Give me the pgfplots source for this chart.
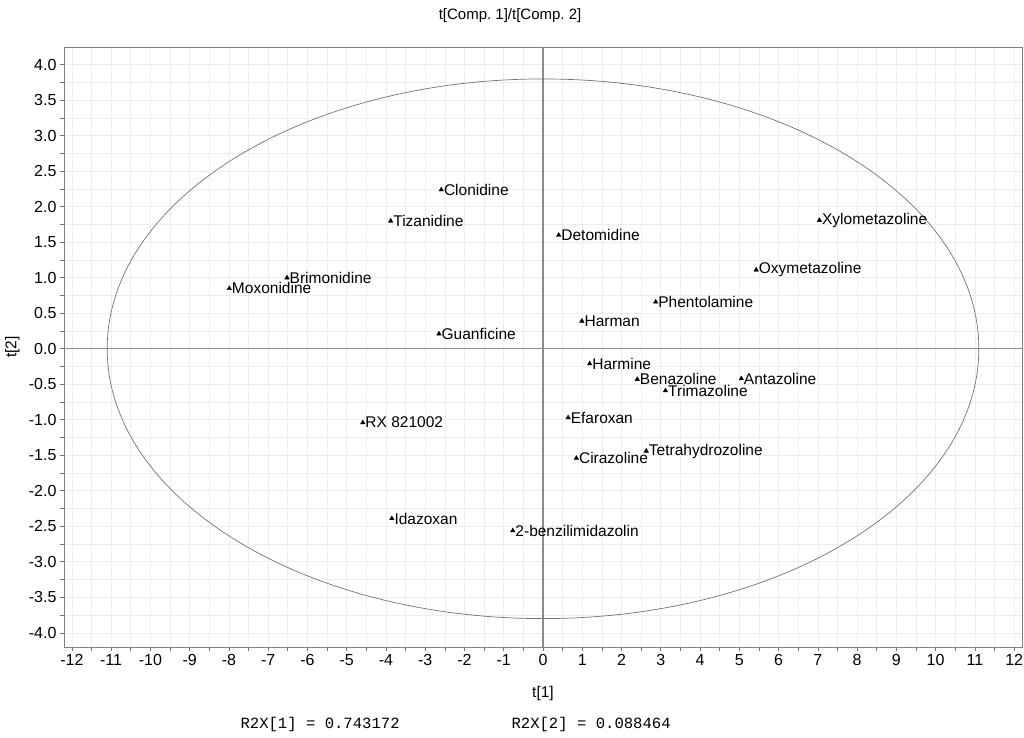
\documentclass[border=0pt]{standalone}
\usepackage{pgfplots}
\pgfplotsset{compat=1.18}
\usepackage{fontspec}
\setmainfont{Liberation Sans}
\setmonofont{Liberation Mono}
\begin{document}
\begin{tikzpicture}[x=1pt,y=1pt]
\begin{axis}[
  at={(64pt,90pt)}, anchor=south west,
  width=958pt, height=600pt, scale only axis,
  xmin=-12.2, xmax=12.2, ymin=-4.2, ymax=4.25,
  xtick={-12,...,12}, ytick={-4,-3.5,...,4},
  minor x tick num=1, minor y tick num=1,
  grid=both,
  major grid style={draw=black!7, line width=0.6pt},
  minor grid style={draw=black!7, line width=0.6pt},
  axis line style={draw=black!50, line width=0.9pt},
  tick style={draw=black!55, line width=0.6pt},
  tick align=outside, major tick length=4pt, minor tick length=4pt,
  tick pos=left,
  yticklabel style={/pgf/number format/fixed, /pgf/number format/fixed zerofill, /pgf/number format/precision=1},
  /pgf/number format/assume math mode=true,
  tick label style={font=\fontsize{16}{18}\selectfont, black},
  title={t[Comp.\ 1]/t[Comp.\ 2]},
  title style={at={(axis description cs:0.4656,1.042)}, anchor=center, font=\fontsize{15}{17}\selectfont},
  xlabel={t[1]},
  xlabel style={at={(axis description cs:0.5,-0.077)}, anchor=center, font=\fontsize{15.5}{17}\selectfont},
  ylabel={t[2]},
  ylabel style={at={(axis description cs:-0.054,0.5)}, anchor=center, rotate=0, font=\fontsize{15.5}{17}\selectfont},
]
\draw[black!45, line width=1.1pt] (axis cs:0,-4.2) -- (axis cs:0,4.25);
\draw[black!45, line width=1.1pt] (axis cs:-12.2,0) -- (axis cs:12.2,0);
\draw[black!55, line width=0.7pt] (axis cs:0,0) ellipse [x radius=11.1, y radius=3.8];
\addplot[only marks, mark=triangle*, mark size=2.6pt, black,
  nodes near coords, point meta=explicit symbolic,
  nodes near coords style={anchor=west, font=\fontsize{15.5}{17}\selectfont, inner sep=1pt, xshift=1.5pt, black}]
  table[col sep=comma, meta=label] {
x,y,label
-2.59,2.24,Clonidine
-3.88,1.80,Tizanidine
-6.52,1.00,Brimonidine
-7.99,0.85,Moxonidine
-2.65,0.21,Guanficine
0.40,1.60,Detomidine
7.04,1.81,Xylometazoline
5.43,1.11,Oxymetazoline
2.87,0.66,Phentolamine
0.99,0.39,Harman
1.19,-0.21,Harmine
2.40,-0.43,Benazoline
3.12,-0.59,Trimazoline
5.05,-0.42,Antazoline
0.64,-0.97,Efaroxan
0.85,-1.54,Cirazoline
2.63,-1.44,Tetrahydrozoline
-4.59,-1.04,RX 821002
-3.85,-2.39,Idazoxan
-0.77,-2.56,2-benzilimidazolin
};
\end{axis}
\node[anchor=base west, font=\ttfamily\fontsize{15.6}{17}\selectfont] at (237,9) {R2X[1] = 0.743172};
\node[anchor=base west, font=\ttfamily\fontsize{15.6}{17}\selectfont] at (508,9) {R2X[2] = 0.088464};
\pgfresetboundingbox
\path (0,0) rectangle (1024,737);
\end{tikzpicture}
\end{document}
